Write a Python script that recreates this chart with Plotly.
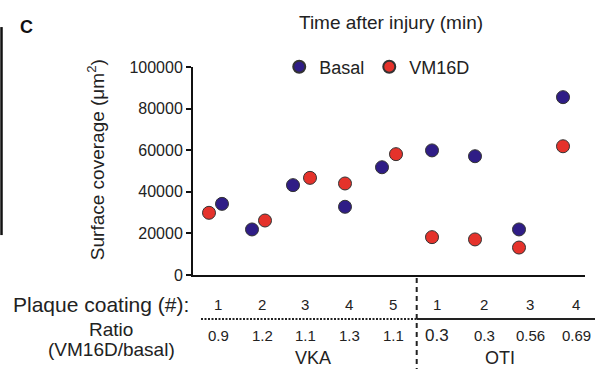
import plotly.graph_objects as go

# ---------------- data ----------------
# x values: position along the (unlabelled) "time after injury" axis, arbitrary units
basal_x = [29, 59, 100, 152, 189, 239, 282, 326, 370]
basal_y = [34200, 21900, 43200, 32800, 51800, 59900, 57100, 21900, 85500]
vm16d_x = [16, 72, 117, 152, 203, 239, 282, 326, 370]
vm16d_y = [29900, 26200, 46700, 44000, 58100, 18200, 17100, 13200, 61900]

label_x = [25, 69, 112, 156, 200, 244, 291, 337, 383]
plaque_labels = ["1", "2", "3", "4", "5", "1", "2", "3", "4"]
ratio_labels = ["0.9", "1.2", "1.1", "1.3", "1.1", "0.3", "0.3", "0.56", "0.69"]
group_names = ["VKA", "OTI"]
group_x = [120, 307]
divider_x = 223.7

y_ticks = [0, 20000, 40000, 60000, 80000, 100000]
X_RANGE = [0, 392]

FONT = "Liberation Sans, Arial, Helvetica, sans-serif"
TXT = "#222222"
BASAL_C = "#2f1d86"
VM_C = "#e5322b"

def px(xv):
    return (xv - X_RANGE[0]) / (X_RANGE[1] - X_RANGE[0])

fig = go.Figure()
fig.add_trace(go.Scatter(
    x=basal_x, y=basal_y, mode="markers", name="Basal",
    marker=dict(size=13, color=BASAL_C, line=dict(color="#333333", width=1)),
))
fig.add_trace(go.Scatter(
    x=vm16d_x, y=vm16d_y, mode="markers", name="VM16D",
    marker=dict(size=13, color=VM_C, line=dict(color="#333333", width=1)),
))

ann = []
# plaque coating row
for xv, t in zip(label_x, plaque_labels):
    ann.append(dict(x=xv, xref="x", y=-0.144, yref="paper", text=t, showarrow=False,
                    xanchor="center", yanchor="middle", borderpad=0,
                    font=dict(size=15, color=TXT)))
# ratio row
for i, (xv, t) in enumerate(zip(label_x, ratio_labels)):
    ann.append(dict(x=xv, xref="x", y=-0.29, yref="paper", text=t, showarrow=False,
                    xanchor="center", yanchor="middle", borderpad=0,
                    font=dict(size=17 if i == 5 else 15, color=TXT)))
# group labels
for xv, t in zip(group_x, group_names):
    ann.append(dict(x=xv, xref="x", y=-0.45, yref="paper", text=t, showarrow=False,
                    xanchor="center", yanchor="bottom", borderpad=0,
                    font=dict(size=18, color=TXT)))

ann += [
    dict(x=-0.005, xref="paper", y=-0.144, yref="paper", text="Plaque coating (#):",
         showarrow=False, xanchor="right", yanchor="middle", font=dict(size=21, color=TXT)),
    dict(x=-0.209, xref="paper", y=-0.264, yref="paper", text="Ratio",
         showarrow=False, xanchor="center", yanchor="middle", font=dict(size=19, color=TXT)),
    dict(x=-0.209, xref="paper", y=-0.36, yref="paper", text="(VM16D/basal)",
         showarrow=False, xanchor="center", yanchor="middle", font=dict(size=19, color=TXT)),
    dict(x=-0.247, xref="paper", y=0.553, yref="paper", text="Surface coverage (μm<sup>2</sup>)",
         showarrow=False, textangle=-90, xanchor="center", yanchor="middle",
         font=dict(size=19, color=TXT)),
    dict(x=0.505, xref="paper", y=1.212, yref="paper", text="Time after injury (min)",
         showarrow=False, xanchor="center", yanchor="middle", font=dict(size=19, color=TXT)),
    dict(x=-0.426, xref="paper", y=1.192, yref="paper", text="<b>C</b>",
         showarrow=False, xanchor="center", yanchor="middle", font=dict(size=18, color="#111111")),
]

shapes = [
    # vertical dashed divider
    dict(type="line", xref="paper", yref="paper", x0=px(divider_x), x1=px(divider_x),
         y0=-0.014, y1=-0.46, line=dict(color=TXT, width=2, dash="5px,4px")),
    # dotted line under VKA
    dict(type="line", xref="paper", yref="paper", x0=px(8), x1=px(divider_x),
         y0=-0.2115, y1=-0.2115, line=dict(color=TXT, width=2, dash="2px,1.5px")),
    # solid line under OTI
    dict(type="line", xref="paper", yref="paper", x0=px(divider_x), x1=1.03,
         y0=-0.2115, y1=-0.2115, line=dict(color=TXT, width=2)),
    # left panel bar
    dict(type="line", xref="paper", yref="paper", x0=-0.4885, x1=-0.4885,
         y0=1.192, y1=0.192, line=dict(color="#111111", width=2.5)),
]

fig.update_layout(
    width=595, height=369,
    margin=dict(l=193, r=10, t=67, b=94, pad=0, autoexpand=False),
    paper_bgcolor="white", plot_bgcolor="white",
    font=dict(family=FONT, color=TXT),
    showlegend=True,
    legend=dict(orientation="h", x=0.22, xanchor="left", y=1.0, yanchor="middle",
                font=dict(size=18, color=TXT), bgcolor="rgba(0,0,0,0)",
                itemsizing="constant", tracegroupgap=0),
    annotations=ann,
    shapes=shapes,
    xaxis=dict(range=X_RANGE, showline=True, linecolor="#111111", linewidth=2,
               showticklabels=False, ticks="", showgrid=False, zeroline=False,
               fixedrange=True),
    yaxis=dict(range=[0, 100000], tickvals=y_ticks, tickformat="d", showline=True,
               linecolor="#111111", linewidth=2, ticks="outside", ticklen=5, tickwidth=2,
               tickcolor="#111111", showgrid=False, zeroline=False,
               tickfont=dict(size=16, color=TXT), fixedrange=True),
)

fig.write_html("out.html", config={"displayModeBar": False},
               post_script="document.body.style.margin='0px';")
